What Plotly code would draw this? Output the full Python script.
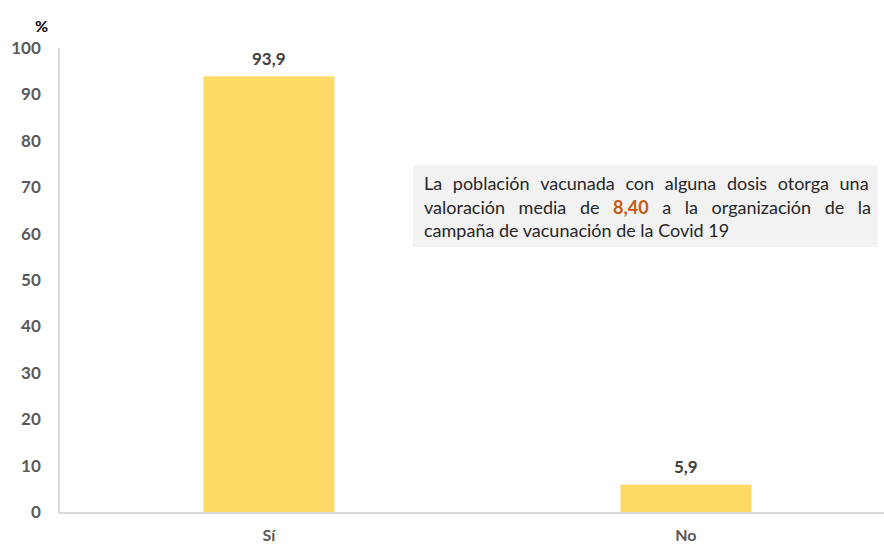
import plotly.graph_objects as go

# Survey answers and their shares (%)
categories = ["Sí", "No"]
values = [93.9, 5.9]
y_ticks = [0, 10, 20, 30, 40, 50, 60, 70, 80, 90, 100]

# Note text, one entry per line; wider gaps emulate justified text
note_lines = [
    ("La población vacunada con alguna dosis otorga una", " \u2004"),
    ("valoración media de <b><span style='color:#C55A11'>8,40</span></b> a la organización de la", " \u2002"),
    ("campaña de vacunación de la Covid 19", " "),
]

FONT = "Lato"

fig = go.Figure(
    go.Bar(
        x=categories,
        y=values,
        width=0.314,
        marker=dict(color="#FFD966", line=dict(width=0)),
        hoverinfo="skip",
    )
)

# Value labels above each bar
for cat, val in zip(categories, values):
    fig.add_annotation(
        x=cat, y=val, text="<b>" + f"{val:.1f}".replace(".", ",") + "</b>",
        showarrow=False, yanchor="middle", yshift=18,
        font=dict(family=FONT, size=17, color="#404040"),
    )

fig.update_layout(
    width=884,
    height=545,
    margin=dict(l=60, r=0, t=47.5, b=32.5),
    paper_bgcolor="white",
    plot_bgcolor="white",
    separators=",.",
    showlegend=False,
    font=dict(family=FONT, color="#595959"),
)

fig.update_xaxes(
    range=[-0.501, 1.475],
    showline=True,
    linecolor="#D9D9D9",
    linewidth=1.5,
    showgrid=False,
    ticks="",
    tickfont=dict(family=FONT, size=16, color="#595959", weight="bold"),
    ticklabelstandoff=8,
    automargin=False,
    fixedrange=True,
)

fig.update_yaxes(
    range=[0, 100],
    tickvals=y_ticks,
    showline=True,
    linecolor="#D9D9D9",
    linewidth=1.5,
    showgrid=False,
    zeroline=False,
    ticks="",
    tickfont=dict(family=FONT, size=17, color="#595959", weight="bold"),
    ticklabelstandoff=14,
    automargin=False,
    fixedrange=True,
)

# Unit label above the y axis
fig.add_annotation(
    text="<b>%</b>", xref="paper", yref="paper", x=-0.022, y=1.0, yshift=23,
    xanchor="center", yanchor="middle", showarrow=False,
    font=dict(family=FONT, size=16, color="#000000"),
)

# Grey note box
fig.add_shape(
    type="rect", xref="paper", yref="paper",
    x0=(413 - 60) / 824, x1=(878 - 60) / 824,
    y0=(512.5 - 247) / 465, y1=(512.5 - 165) / 465,
    fillcolor="#F2F2F2", line=dict(width=0), layer="below",
)
for i, (line, gap) in enumerate(note_lines):
    fig.add_annotation(
        text=line.replace(" ", gap).replace("<b><span" + gap, "<b><span "),
        xref="paper", yref="paper",
        x=(422 - 60) / 824, y=(512.5 - (183 + i * 23.5)) / 465,
        xanchor="left", yanchor="middle", showarrow=False,
        font=dict(family=FONT, size=18, color="#262626"),
    )

fig.write_html("out.html")
